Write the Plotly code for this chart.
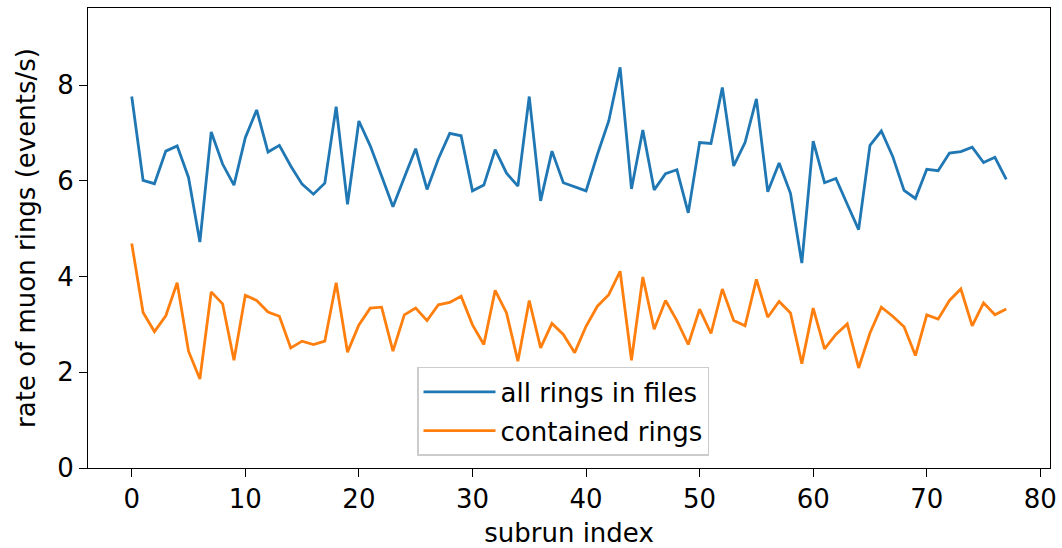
import plotly.graph_objects as go

# Data
subrun = list(range(78))
all_rings = [
    7.76, 6.01, 5.94, 6.62, 6.73, 6.07, 4.72, 7.02, 6.35, 5.91,
    6.90, 7.48, 6.60, 6.74, 6.31, 5.93, 5.72, 5.95, 7.55, 5.51,
    7.25, 6.73, 6.10, 5.46, 6.07, 6.67, 5.82, 6.46, 6.99, 6.94,
    5.79, 5.91, 6.65, 6.16, 5.89, 7.76, 5.58, 6.62, 5.96, 5.87,
    5.79, 6.55, 7.25, 8.37, 5.83, 7.06, 5.81, 6.15, 6.23, 5.33,
    6.80, 6.78, 7.95, 6.31, 6.80, 7.71, 5.77, 6.37, 5.74, 4.28,
    6.83, 5.96, 6.05, 5.51, 4.98, 6.74, 7.04, 6.51, 5.80, 5.63,
    6.24, 6.21, 6.58, 6.61, 6.70, 6.38, 6.49, 6.03,
]
contained = [
    4.69, 3.25, 2.85, 3.18, 3.87, 2.44, 1.86, 3.68, 3.43, 2.25,
    3.61, 3.50, 3.26, 3.17, 2.51, 2.65, 2.58, 2.65, 3.87, 2.42,
    2.99, 3.34, 3.36, 2.44, 3.20, 3.34, 3.08, 3.41, 3.46, 3.59,
    2.99, 2.58, 3.71, 3.24, 2.23, 3.50, 2.51, 3.02, 2.79, 2.41,
    2.96, 3.38, 3.62, 4.11, 2.25, 3.99, 2.90, 3.50, 3.08, 2.58,
    3.32, 2.81, 3.74, 3.08, 2.97, 3.94, 3.15, 3.48, 3.24, 2.18,
    3.34, 2.49, 2.79, 3.01, 2.09, 2.82, 3.36, 3.17, 2.95, 2.35,
    3.20, 3.11, 3.50, 3.74, 2.97, 3.45, 3.20, 3.32,
]

font = dict(family="DejaVu Sans", size=26, color="black")

fig = go.Figure()
fig.add_trace(go.Scatter(x=subrun, y=all_rings, mode="lines", name="all rings in files",
                         legendgroup="a", line=dict(color="#1f77b4", width=2.8)))
fig.add_trace(go.Scatter(x=subrun, y=contained, mode="lines", name="contained rings",
                         legendgroup="b", line=dict(color="#ff7f0e", width=2.8)))

axis_style = dict(showgrid=False, zeroline=False, showline=True, linecolor="black", linewidth=1.2,
                  mirror=True, ticks="outside", ticklen=8, tickwidth=1.2, tickcolor="black",
                  tickfont=font, title_font=font, automargin=False)

fig.update_layout(
    width=1062, height=548,
    margin=dict(l=88, r=12, t=8, b=80),
    paper_bgcolor="white", plot_bgcolor="white",
    font=font,
    xaxis=dict(range=[-3.85, 80.85], tickvals=list(range(0, 81, 10)),
               ticklabelstandoff=0,
               title=dict(text="subrun index", standoff=20), **axis_style),
    yaxis=dict(range=[0, 9.61], tickvals=[0, 2, 4, 6, 8],
               title=dict(text="rate of muon rings (events/s)", standoff=14), **axis_style),
    legend=dict(x=0.342, y=0.2196, xanchor="left", yanchor="top",
                bgcolor="rgba(255,255,255,0.8)", bordercolor="#cccccc", borderwidth=1.5,
                itemwidth=72, tracegroupgap=2, font=font),
)

# drop the default page margin so the figure sits at the window's corner
fig.write_html("out.html", config={"displayModeBar": False},
               post_script="document.body.style.margin = '0';")
